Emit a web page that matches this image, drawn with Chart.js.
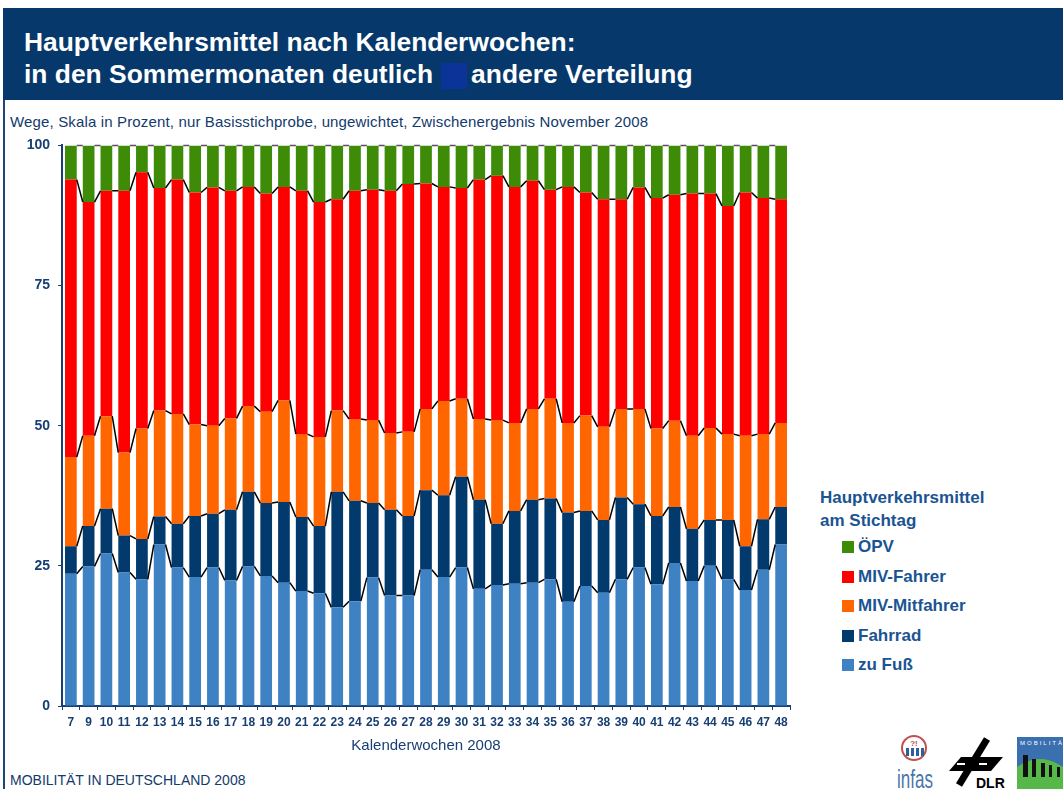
<!DOCTYPE html>
<html>
<head>
<meta charset="utf-8">
<script src="https://cdn.jsdelivr.net/npm/chart.js@4"></script>
<style>
  body { margin: 0; width: 1063px; height: 789px; background: #fff; position: relative; overflow: hidden;
         font-family: "Liberation Sans", Arial, sans-serif; }
  #banner { position: absolute; left: 3px; top: 8px; width: 1060px; height: 92px; background: #06386b; }
  #banner div { position: absolute; left: 21px; color: #fff; font-weight: bold; font-size: 26.4px; white-space: nowrap; }
  #glitch { display: inline-block; width: 26px; height: 26px; margin-left: 8px; margin-right: 4px; background: #0b3398; vertical-align: -6px; }
  #frame { position: absolute; left: 3px; top: 100px; width: 2px; height: 689px; background: #1d4576; }
  #sub { position: absolute; left: 10px; top: 113px; font-size: 15px; color: #123a6b; white-space: nowrap; letter-spacing: 0.15px; }
  #wrap { position: absolute; left: 0; top: 129px; width: 800px; height: 636px; }
  #legend { position: absolute; left: 820px; top: 486px; color: #1a5493; font-weight: bold; font-size: 17px; }
  #legend .ttl { line-height: 23px; }
  #legend .item { position: absolute; left: 22px; white-space: nowrap; }
  #legend .sw { position: absolute; left: 0; top: 5px; width: 12px; height: 12px; }
  #legend .lbl { position: absolute; left: 16px; top: 0; line-height: 22px; }
  #foot { position: absolute; left: 10px; top: 772px; font-size: 14px; color: #123a6b; }
  .logo { position: absolute; }
</style>
</head>
<body>
<div id="banner">
  <div style="top: 19px;">Hauptverkehrsmittel nach Kalenderwochen:</div>
  <div style="top: 51px;">in den Sommermonaten deutlich<span id="glitch"></span>andere Verteilung</div>
</div>
<div id="frame"></div>
<div id="sub">Wege, Skala in Prozent, nur Basisstichprobe, ungewichtet, Zwischenergebnis November 2008</div>
<div id="wrap"><canvas id="chart" width="800" height="636"></canvas></div>
<div id="legend"></div>
<div id="foot">MOBILITÄT IN DEUTSCHLAND 2008</div>

<svg class="logo" style="left:895px; top:733px;" width="44" height="56">
  <circle cx="19" cy="15" r="12" fill="none" stroke="#c0504d" stroke-width="2"/>
  <text x="19" y="13" text-anchor="middle" font-family="Liberation Sans" font-size="8" font-weight="bold" fill="#c0504d">?!</text>
  <g fill="#2f5f9a"><rect x="11" y="15" width="3" height="8"/><rect x="16" y="15" width="3" height="8"/><rect x="21" y="15" width="3" height="8"/><rect x="26" y="15" width="3" height="8"/></g>
  <text x="2" y="55" font-family="Liberation Sans Narrow, Liberation Sans" font-size="26" fill="#4a76a8" textLength="36" lengthAdjust="spacingAndGlyphs">infas</text>
</svg>
<svg class="logo" style="left:943px; top:737px;" width="66" height="52">
  <line x1="16" y1="48" x2="44" y2="2" stroke="#000" stroke-width="7"/>
  <polygon points="6,34 18,20 60,20 48,34" fill="#000"/>
  <g stroke="#fff" stroke-width="2">
    <line x1="14" y1="27" x2="22" y2="27"/><line x1="36" y1="27" x2="44" y2="27"/>
  </g>
  <text x="33" y="51" font-family="Liberation Sans" font-size="14" font-weight="bold" fill="#000">DLR</text>
</svg>
<svg class="logo" style="left:1017px; top:737px;" width="46" height="52">
  <rect x="0" y="0" width="46" height="52" fill="#3a6fb0"/>
  <path d="M0 52 L0 30 Q23 14 46 30 L46 52 Z" fill="#55b848"/>
  <text x="3" y="8" font-family="Liberation Sans" font-size="6" fill="#fff" letter-spacing="2">MOBILITÄ</text>
  <g fill="#111"><rect x="6" y="18" width="5" height="22"/><rect x="15" y="22" width="4" height="18"/><rect x="24" y="26" width="4" height="14"/><rect x="32" y="28" width="3" height="12"/><rect x="40" y="30" width="3" height="10"/></g>
</svg>

<script>
let weeks = ['7', '9', '10', '11', '12', '13', '14', '15', '16', '17', '18', '19', '20', '21', '22', '23', '24', '25', '26', '27', '28',
    '29', '30', '31', '32', '33', '34', '35', '36', '37', '38', '39', '40', '41', '42', '43', '44', '45', '46', '47', '48'];

let zuFuss = [23.6, 24.9, 27.2, 23.8, 22.6, 28.8, 24.7, 23.0, 24.7, 22.4, 24.9, 23.2, 22.0, 20.5, 20.1, 17.6, 18.7, 22.9, 19.7, 19.7, 24.3,
    23.0, 24.7, 20.9, 21.6, 21.8, 22.0, 22.6, 18.6, 21.4, 20.2, 22.6, 24.7, 21.7, 25.5, 22.3, 25.0, 22.6, 20.7, 24.3, 28.8];
let fahrrad = [4.9, 7.2, 8.0, 6.6, 7.2, 5.0, 7.8, 10.9, 9.6, 12.6, 13.3, 13.0, 14.4, 13.2, 12.0, 20.6, 17.9, 13.3, 15.3, 14.2, 14.2,
    14.6, 16.2, 15.9, 10.9, 13.0, 14.8, 14.4, 15.9, 13.4, 13.0, 14.6, 11.3, 12.2, 10.0, 9.3, 8.2, 10.6, 7.8, 9.0, 6.7];
let mivMitfahrer = [15.9, 16.1, 16.5, 14.8, 19.7, 18.9, 19.6, 16.3, 15.7, 16.3, 15.3, 16.3, 18.1, 14.8, 15.9, 14.5, 14.6, 14.8, 13.7, 15.0, 14.5,
    16.8, 13.9, 14.4, 18.5, 15.7, 16.2, 17.8, 16.0, 17.0, 16.6, 15.8, 17.0, 15.6, 15.4, 16.6, 16.4, 15.3, 19.7, 15.2, 15.0];
let mivFahrer = [49.5, 41.7, 40.2, 46.7, 45.7, 39.7, 41.8, 41.4, 42.5, 40.6, 39.1, 38.9, 38.1, 43.4, 41.9, 37.7, 40.7, 41.1, 43.2, 44.2, 40.2,
    38.2, 37.6, 42.7, 43.6, 42.1, 40.7, 37.3, 42.1, 39.8, 40.6, 37.4, 39.5, 41.1, 40.3, 43.2, 41.8, 40.7, 43.4, 42.1, 39.9];
let oepv = [6.1, 10.1, 8.1, 8.1, 4.8, 7.6, 6.1, 8.4, 7.5, 8.1, 7.4, 8.6, 7.4, 8.1, 10.1, 9.6, 8.1, 7.9, 8.1, 6.9, 6.8,
    7.4, 7.6, 6.1, 5.4, 7.4, 6.3, 7.9, 7.4, 8.4, 9.6, 9.6, 7.5, 9.4, 8.8, 8.6, 8.6, 10.8, 8.4, 9.4, 9.6];

let yTicks = [0, 25, 50, 75, 100];

let seriesNames = ['zu Fuß', 'Fahrrad', 'MIV-Mitfahrer', 'MIV-Fahrer', 'ÖPV'];
let seriesData = [zuFuss, fahrrad, mivMitfahrer, mivFahrer, oepv];
let colours = ['#3f82c4', '#033a6e', '#ff6600', '#ff0000', '#3d8b07'];

let axisColour = '#173f73';

// Excel-style series lines between neighbouring bars
const seriesLines = {
    id: 'seriesLines',
    afterDatasetsDraw(chart) {
        const ctx = chart.ctx;
        ctx.save();
        ctx.lineWidth = 1.5;
        chart.data.datasets.forEach((ds, d) => {
            const bars = chart.getDatasetMeta(d).data;
            ctx.strokeStyle = d === chart.data.datasets.length - 1 ? '#555' : '#000';
            ctx.beginPath();
            for (let i = 0; i < bars.length - 1; i++) {
                const a = bars[i];
                const b = bars[i + 1];
                ctx.moveTo(a.x + a.width / 2, a.y);
                ctx.lineTo(b.x - b.width / 2, b.y);
            }
            ctx.stroke();
        });
        ctx.restore();
    },
};

let datasets = seriesData.map((vals, i) => ({
    label: seriesNames[i],
    data: vals,
    backgroundColor: colours[i],
    borderWidth: 0,
    categoryPercentage: 1,
    barPercentage: 0.66,
}));

let chartConfig = {
    type: 'bar',
    data: { labels: weeks, datasets: datasets },
    options: {
        responsive: false,
        animation: false,
        layout: { padding: { left: 0, right: 10, top: 10, bottom: 0 } },
        plugins: { legend: { display: false }, tooltip: { enabled: false } },
        scales: {
            x: {
                stacked: true,
                border: { color: axisColour, width: 2 },
                grid: { drawOnChartArea: false, tickLength: 4, color: axisColour, offset: true },
                ticks: {
                    color: axisColour, padding: 5, maxRotation: 0, autoSkip: false,
                    font: { family: 'Liberation Sans', size: 12, weight: 'bold' },
                },
                title: {
                    display: true, text: 'Kalenderwochen 2008', color: axisColour,
                    font: { family: 'Liberation Sans', size: 15 }, padding: { top: 0, bottom: 10 },
                },
                afterFit: (scale) => { scale.height = 59; },
            },
            y: {
                stacked: true,
                min: 0,
                max: 100,
                border: { color: axisColour, width: 2 },
                grid: { drawOnChartArea: false, tickLength: 4, color: axisColour },
                afterBuildTicks: (scale) => { scale.ticks = yTicks.map((v) => ({ value: v })); },
                ticks: {
                    color: axisColour, padding: 8,
                    font: { family: 'Liberation Sans', size: 14, weight: 'bold' },
                },
                afterFit: (scale) => { scale.width = 62; },
            },
        },
    },
    plugins: [seriesLines],
};

let chart = new Chart(document.getElementById('chart').getContext('2d'), chartConfig);

// legend on the right, top series first
let legend = document.getElementById('legend');
let legendTitle = document.createElement('div');
legendTitle.className = 'ttl';
legendTitle.innerHTML = 'Hauptverkehrsmittel<br>am Stichtag';
legend.appendChild(legendTitle);
for (let i = seriesNames.length - 1, row = 0; i >= 0; i--, row++) {
    let item = document.createElement('div');
    item.className = 'item';
    item.style.top = (50 + row * 29.6) + 'px';
    let sw = document.createElement('div');
    sw.className = 'sw';
    sw.style.background = colours[i];
    let lbl = document.createElement('div');
    lbl.className = 'lbl';
    lbl.innerText = seriesNames[i];
    item.appendChild(sw);
    item.appendChild(lbl);
    legend.appendChild(item);
}
</script>
</body>
</html>
